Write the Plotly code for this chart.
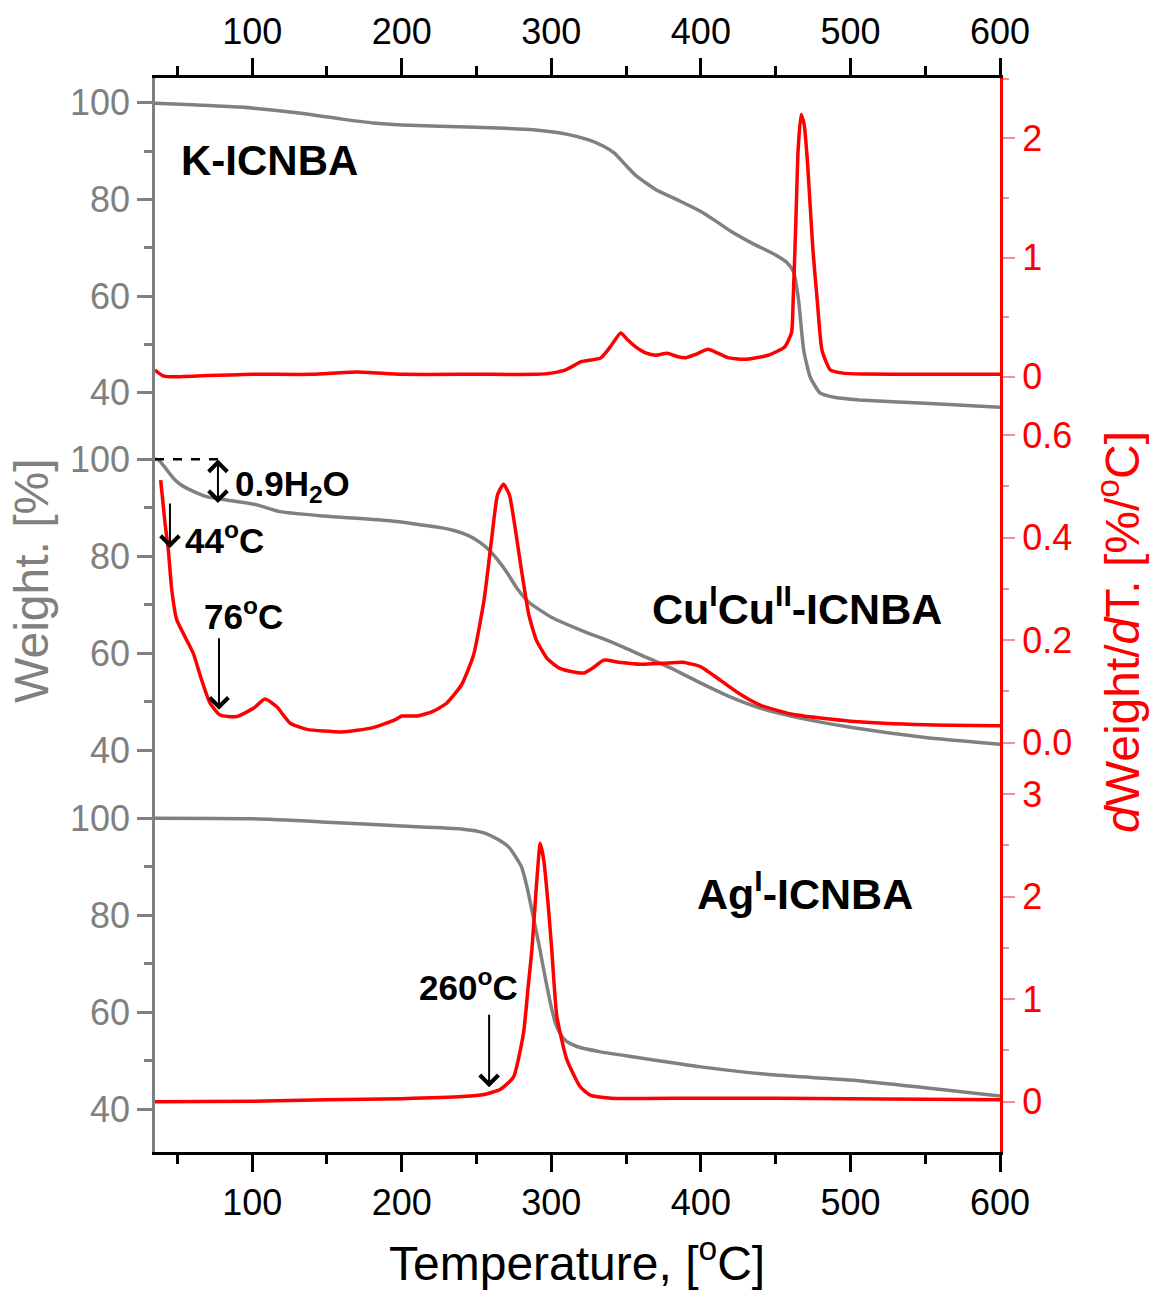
import plotly.graph_objects as go

# ---------------- data ----------------
# K-ICNBA
T_k_w = [35, 60, 92, 130, 160, 181, 200, 250, 288, 310, 325, 335, 342, 350, 357, 370, 385, 400, 410, 420, 435, 450, 458, 462, 465.3, 468.7, 473, 479.8, 490, 506, 550, 600]
W_k = [99.9, 99.6, 99.1, 97.9, 96.6, 95.8, 95.4, 94.9, 94.4, 93.5, 92.3, 91.0, 89.6, 87.0, 84.8, 82.0, 79.8, 77.5, 75.5, 73.4, 70.8, 68.5, 66.8, 65.0, 59.2, 48.9, 43.3, 39.9, 39.0, 38.5, 37.8, 37.0]
T_k_d = [35, 40, 45, 70, 100, 140, 170, 200, 250, 290, 300, 310, 320, 333, 339.4, 346.4, 351, 356.4, 363, 369.8, 377.6, 384, 390, 397, 404.7, 411, 418, 429, 445, 456, 460.6, 461.7, 463.5, 465, 467, 469, 471, 473, 475, 477.8, 481, 486.6, 495, 508, 550, 600]
D_k = [0.056, 0.01, 0.0, 0.01, 0.02, 0.02, 0.04, 0.02, 0.02, 0.02, 0.03, 0.06, 0.126, 0.157, 0.25, 0.367, 0.31, 0.25, 0.2, 0.18, 0.196, 0.17, 0.16, 0.19, 0.23, 0.2, 0.16, 0.146, 0.18, 0.25, 0.37, 0.64, 1.3, 1.9, 2.2, 2.12, 1.85, 1.45, 1.05, 0.64, 0.22, 0.056, 0.03, 0.023, 0.02, 0.02]

# CuICuII-ICNBA
T_cu_w = [35, 37.2, 42, 47.3, 52, 58.5, 69.6, 83, 103, 118.6, 147.6, 192.2, 210, 226, 235, 245, 252, 258, 264, 270, 277, 285, 300, 320, 340, 360, 380, 400, 420, 440, 460, 500, 550, 600]
W_cu = [100.0, 99.9, 98.2, 96.1, 94.8, 93.7, 92.3, 91.6, 90.6, 89.2, 88.3, 87.3, 86.6, 85.9, 85.3, 84.2, 82.9, 81.4, 79.3, 76.8, 73.4, 70.5, 67.4, 64.7, 62.3, 59.6, 56.9, 53.8, 50.9, 48.6, 47.0, 44.7, 42.6, 41.2]
T_cu_d = [38.8, 41.7, 43.9, 46.2, 49.5, 56.2, 60.6, 66.2, 71.8, 78.5, 89.6, 100.8, 108.6, 116.4, 125.4, 136.6, 160, 180, 195, 200, 210, 220, 230, 240, 248, 255, 260, 264, 268, 272, 276, 280, 285, 290, 297, 305, 315, 322, 328, 335, 345, 360, 375, 388, 400, 410, 425, 440, 460, 480, 500, 550, 600]
D_cu = [0.512, 0.428, 0.376, 0.298, 0.24, 0.2, 0.174, 0.122, 0.077, 0.054, 0.051, 0.067, 0.085, 0.07, 0.038, 0.026, 0.021, 0.029, 0.044, 0.052, 0.052, 0.06, 0.077, 0.113, 0.171, 0.278, 0.395, 0.483, 0.504, 0.483, 0.415, 0.337, 0.249, 0.2, 0.165, 0.146, 0.138, 0.136, 0.146, 0.161, 0.157, 0.153, 0.155, 0.157, 0.148, 0.128, 0.097, 0.073, 0.056, 0.048, 0.042, 0.035, 0.033]

# AgI-ICNBA
T_ag_w = [35, 100, 150, 200, 240, 255, 265, 272, 280, 284, 288, 292, 296, 300, 303, 306, 310, 317, 333, 350, 400, 450, 500, 550, 600]
W_ag = [100, 99.9, 99.2, 98.4, 97.8, 97.0, 95.5, 93.9, 90.0, 85.5, 79.5, 73.5, 67.0, 61.0, 57.5, 55.5, 54.0, 52.9, 51.8, 51.0, 48.7, 47.0, 46.0, 44.4, 42.7]
T_ag_d = [35, 100, 150, 200, 241, 255, 265.8, 274.7, 281.4, 284.7, 287, 290, 292.6, 295, 298, 300.3, 303.7, 310.4, 319.3, 326, 340, 400, 500, 600]
D_ag = [0.0, 0.005, 0.02, 0.03, 0.05, 0.07, 0.12, 0.24, 0.67, 1.15, 1.48, 2.1, 2.52, 2.35, 1.9, 1.48, 0.83, 0.41, 0.146, 0.065, 0.035, 0.035, 0.03, 0.02]

x_major = [100, 200, 300, 400, 500, 600]
x_minor = [50, 150, 250, 350, 450, 550]
w_major = [40, 60, 80, 100]
w_minor = [50, 70, 90]

GRAY = "#808080"
RED = "#ff0000"
PINK = "#ff8c8c"
FONT = "Liberation Sans, Arial, sans-serif"

fig = go.Figure()

def line(x, y, ya, color):
    fig.add_trace(go.Scatter(x=x, y=y, yaxis=ya, mode="lines",
                             line=dict(color=color, width=3.5, shape="spline", smoothing=0.5),
                             hoverinfo="skip"))

line(T_k_w, W_k, "y", GRAY)
line(T_cu_w, W_cu, "y3", GRAY)
line(T_ag_w, W_ag, "y5", GRAY)
line(T_k_d, D_k, "y2", RED)
line(T_cu_d, D_cu, "y4", RED)
line(T_ag_d, D_ag, "y6", RED)
fig.add_trace(go.Scatter(x=[], y=[], xaxis="x2", yaxis="y", showlegend=False))

xa = dict(range=[35, 600], tickmode="array", tickvals=x_major, ticks="outside", ticklen=17,
          tickwidth=2.5, tickcolor="black", showline=True, linecolor="black", linewidth=2.5,
          showgrid=False, zeroline=False, tickfont=dict(size=36, color="black", family=FONT),
          minor=dict(tickmode="array", tickvals=x_minor, ticks="outside", ticklen=9,
                     tickwidth=2.5, tickcolor="black"))

def wax(rng, **kw):
    d = dict(range=rng, tickmode="array", tickvals=w_major, ticks="outside", ticklen=15,
             tickwidth=2.5, tickcolor=GRAY, showline=True, linecolor=GRAY, linewidth=2.5,
             showgrid=False, zeroline=False, side="left",
             tickfont=dict(size=36, color=GRAY, family=FONT),
             minor=dict(tickmode="array", tickvals=w_minor, ticks="outside", ticklen=8,
                        tickwidth=2.5, tickcolor=GRAY))
    d.update(kw)
    return d

def dax(rng, major, minor, text):
    return dict(range=rng, tickmode="array", tickvals=major, ticktext=text, ticks="outside",
                ticklen=12, tickwidth=2, tickcolor=PINK, showline=True, linecolor=RED,
                linewidth=3, showgrid=False, zeroline=False, side="right", overlaying="y",
                tickfont=dict(size=36, color=RED, family=FONT),
                minor=dict(tickmode="array", tickvals=minor, ticks="outside", ticklen=6,
                           tickwidth=2, tickcolor=PINK))

fig.update_layout(
    width=1153, height=1293,
    margin=dict(l=155, r=153, t=78, b=141, autoexpand=False),
    plot_bgcolor="white", paper_bgcolor="white", showlegend=False,
    font=dict(family=FONT),
    xaxis=xa,
    xaxis2=dict(xa, overlaying="x", side="top", anchor="y"),
    yaxis=wax([-117.1, 105.11]),
    yaxis3=wax([-42.97, 178.7], overlaying="y"),
    yaxis5=wax([31.13, 252.8], overlaying="y"),
    yaxis2=dax([-6.504, 2.506], [0, 1, 2], [0.5, 1.5, 2.5], ["0", "1", "2"]),
    yaxis4=dax([-0.798, 1.296], [0, 0.2, 0.4, 0.6], [0.1, 0.3, 0.5], ["0.0", "0.2", "0.4", "0.6"]),
    yaxis6=dax([-0.490, 9.979], [0, 1, 2, 3], [-0.5, 0.5, 1.5, 2.5], ["0", "1", "2", "3"]),
)

ann = []
def label(text, x, y, yref, size, xanchor="left"):
    ann.append(dict(text=text, x=x, y=y, xref="x", yref=yref, showarrow=False,
                    xanchor=xanchor, yanchor="middle",
                    font=dict(size=size, color="black", family=FONT)))

label("<b>K-ICNBA</b>", 111.3, 88.1, "y", 42, xanchor="center")
label("<b>0.9H<sub>2</sub>O</b>", 87.2, 94.5, "y3", 35)
label("<b>44<sup>o</sup>C</b>", 53.7, 83.7, "y3", 35)
label("<b>76<sup>o</sup>C</b>", 66.4, 68.0, "y3", 35)
label("<b>Cu<sup>I</sup>Cu<sup>II</sup>-ICNBA</b>", 366.1, 69.7, "y3", 43)
label("<b>Ag<sup>I</sup>-ICNBA</b>", 396.2, 85.0, "y5", 43)
label("<b>260<sup>o</sup>C</b>", 210.3, 65.5, "y5", 35)

def arrow(x, y, yref, ay, side="end"):
    ann.append(dict(text="", x=x, y=y, xref="x", yref=yref, ax=0, ay=ay, showarrow=True,
                    arrowhead=4, arrowsize=1.8, arrowwidth=2, arrowcolor="black",
                    arrowside=side, startarrowhead=4, startarrowsize=1.8))

arrow(45.0, 81.7, "y3", -46)
arrow(77.1, 90.98, "y3", -45, side="end+start")
arrow(77.8, 48.3, "y3", -73)
arrow(258.4, 44.5, "y5", -74)

# axis titles
ann.append(dict(text="Temperature, [<sup>o</sup>C]", x=0.4994, y=-0.1005, xref="paper", yref="paper",
                showarrow=False, xanchor="center", yanchor="middle",
                font=dict(size=48, color="black", family=FONT)))
ann.append(dict(text="Weight. [%]", x=-0.1455, y=0.5317, xref="paper", yref="paper",
                showarrow=False, xanchor="center", yanchor="middle", textangle=-90,
                font=dict(size=48, color=GRAY, family=FONT)))
ann.append(dict(text="<i>d</i>Weight/<i>d</i>T. [%/<sup>o</sup>C]", x=1.1408, y=0.4842,
                xref="paper", yref="paper", showarrow=False, xanchor="center", yanchor="middle",
                textangle=-90, font=dict(size=48, color=RED, family=FONT)))
fig.update_layout(annotations=ann)

fig.add_shape(type="line", x0=35, x1=77.1, y0=100, y1=100, xref="x", yref="y3",
              line=dict(color="black", width=2.5, dash="dash"))

# remove the default 8 px page margin so the figure fills the window exactly
fig.write_html("out.html", config={"displayModeBar": False},
               post_script="document.body.style.margin='0px';document.body.style.overflow='hidden';")
